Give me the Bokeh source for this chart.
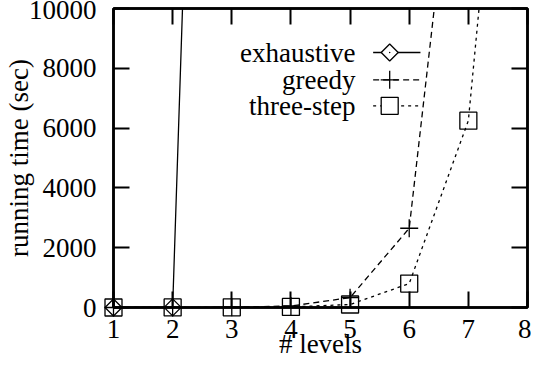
import numpy as np
from bokeh.plotting import figure
from bokeh.models import Range1d, LinearAxis, FixedTicker, Label
from bokeh.embed import file_html
from bokeh.resources import INLINE

# ---- data ----
exhaustive_levels = [1, 2, 3]
exhaustive_time = [1, 5, 60000]
greedy_levels = [1, 2, 3, 4, 5, 6, 7]
greedy_time = [0.5, 2, 10, 50, 330, 2650, 20000]
three_step_levels = [1, 2, 3, 4, 5, 6, 7, 8]
three_step_time = [0.5, 2, 5, 20, 100, 800, 6250, 27000]

x_ticks = [1, 2, 3, 4, 5, 6, 7, 8]
y_ticks = [0, 2000, 4000, 6000, 8000, 10000]
series_names = ["exhaustive", "greedy", "three-step"]

FONT = "Times New Roman"
FS = "27px"

p = figure(width=531, height=367, output_backend="svg", toolbar_location=None,
           x_range=Range1d(1, 8), y_range=Range1d(0, 10000),
           min_border_left=106, min_border_right=4, min_border_top=8, min_border_bottom=60)
p.grid.visible = False
p.outline_line_color = "black"
p.outline_line_width = 2.5
p.background_fill_color = "white"
p.border_fill_color = "white"

def style_axis(ax, labels=True):
    ax.axis_line_width = 2.5
    ax.axis_line_color = "black"
    ax.major_tick_in = 16
    ax.major_tick_out = 0
    ax.major_tick_line_width = 2
    ax.major_tick_line_color = "black"
    ax.minor_tick_line_color = None
    ax.major_label_text_font = FONT
    ax.major_label_text_color = "black"
    ax.major_label_text_font_size = FS
    ax.axis_label_text_font = FONT
    ax.axis_label_text_font_size = FS
    ax.axis_label_text_font_style = "normal"
    ax.axis_label_text_color = "black"

p.xaxis.ticker = FixedTicker(ticks=x_ticks)
p.yaxis.ticker = FixedTicker(ticks=y_ticks)
style_axis(p.xaxis[0])
style_axis(p.yaxis[0])
p.xaxis.major_label_standoff = 12
p.yaxis.major_label_standoff = 17
p.xaxis.axis_label = "# levels"
p.yaxis.axis_label = "running time (sec)"
p.xaxis.axis_label_standoff = -12
p.yaxis.axis_label_standoff = -8

top = LinearAxis(ticker=FixedTicker(ticks=x_ticks), major_label_standoff=0,
                 major_label_overrides={t: "" for t in x_ticks})
style_axis(top)
p.add_layout(top, "above")
right = LinearAxis(ticker=FixedTicker(ticks=y_ticks), major_label_standoff=0,
                   major_label_overrides={t: "" for t in y_ticks})
style_axis(right)
p.add_layout(right, "right")

LW = 1.3
# exhaustive
p.line(exhaustive_levels, exhaustive_time, line_color="black", line_width=LW)
p.scatter(exhaustive_levels, exhaustive_time, marker="square", angle=np.pi / 4, size=12,
          fill_color=None, line_color="black", line_width=1.3, level="overlay")
p.scatter(exhaustive_levels, exhaustive_time, marker="dot", size=6, line_color="black",
          level="overlay")
# greedy
p.line(greedy_levels, greedy_time, line_color="black", line_width=LW, line_dash="6 4")
p.scatter(greedy_levels, greedy_time, marker="cross", size=18,
          line_color="black", line_width=1.3, level="overlay")
# three-step
p.line(three_step_levels, three_step_time, line_color="black", line_width=LW, line_dash="3 4")
p.scatter(three_step_levels, three_step_time, marker="square", size=17,
          fill_color=None, line_color="black", line_width=1.3, level="overlay")

# ---- gnuplot-style key (text right, sample line + marker) ----
key_text_x = 5.09
key_line_x0, key_line_x1 = 5.39, 6.19
key_mark_x = 5.67
key_rows = [8528, 7615, 6746]
dashes = ["solid", "6 4", "3 4"]
for name, yk, dash in zip(series_names, key_rows, dashes):
    p.add_layout(Label(x=key_text_x, y=yk, text=name, text_align="right", text_baseline="middle",
                       text_font=FONT, text_font_size=FS, text_color="black"))
    p.line([key_line_x0, key_line_x1], [yk, yk], line_color="black", line_width=LW, line_dash=dash)
p.scatter([key_mark_x], [key_rows[0]], marker="square", angle=np.pi / 4, size=12,
          fill_color="white", line_color="black", line_width=1.3)
p.scatter([key_mark_x], [key_rows[0]], marker="dot", size=6, line_color="black")
p.scatter([key_mark_x], [key_rows[1]], marker="cross", size=18, line_color="black", line_width=1.3)
p.scatter([key_mark_x], [key_rows[2]], marker="square", size=17,
          fill_color="white", line_color="black", line_width=1.3)

open("out.html", "w").write(file_html(p, INLINE))
